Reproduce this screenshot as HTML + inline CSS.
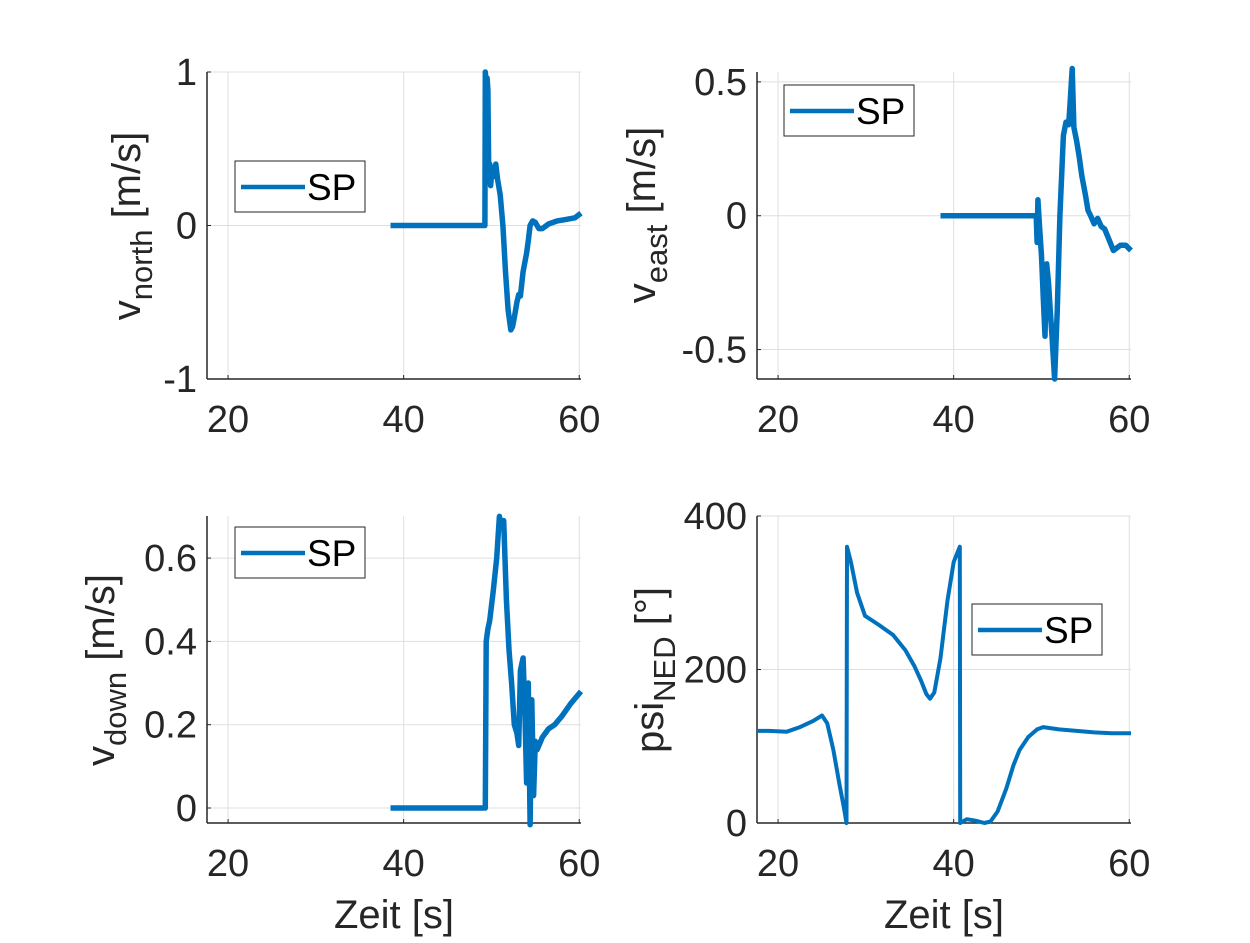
<!DOCTYPE html>
<html><head><meta charset="utf-8"><style>
body{margin:0;background:#fff;}
svg text{font-family:"Liberation Sans",Arial,sans-serif;fill:#262626;}
</style></head><body>
<svg id="fig" width="1250" height="938" xmlns="http://www.w3.org/2000/svg"></svg>
<script>
// ---- data ----
const tNorth=[38.5,49.25,49.3,49.4,49.5,49.6,49.7,49.8,49.9,50.1,50.3,50.5,50.7,51.0,51.3,51.6,51.9,52.2,52.4,52.6,52.9,53.1,53.3,53.6,54.0,54.2,54.4,54.7,55.0,55.4,55.8,56.5,57.5,58.5,59.5,60.2];
const vNorth=[0,0,1.0,0.92,0.96,0.88,0.3,0.4,0.26,0.38,0.32,0.4,0.3,0.2,0.0,-0.3,-0.55,-0.68,-0.66,-0.6,-0.5,-0.45,-0.46,-0.3,-0.18,-0.1,0.0,0.03,0.02,-0.02,-0.02,0.01,0.03,0.04,0.05,0.08];
const tEast=[38.5,49.4,49.5,49.6,49.8,50.0,50.2,50.4,50.6,50.8,51.0,51.2,51.5,51.8,52.1,52.5,52.8,53.1,53.3,53.5,53.7,54.0,54.3,54.6,55.0,55.3,55.6,56.0,56.4,56.8,57.2,57.7,58.2,59.0,59.6,60.2];
const vEast=[0,0,-0.1,0.06,-0.05,-0.15,-0.3,-0.45,-0.18,-0.25,-0.35,-0.45,-0.61,-0.35,0.0,0.3,0.35,0.34,0.44,0.55,0.33,0.28,0.22,0.15,0.08,0.02,0.0,-0.03,-0.01,-0.04,-0.05,-0.09,-0.13,-0.11,-0.11,-0.13];
const tDown=[38.5,49.3,49.4,49.6,49.8,50.2,50.6,50.9,51.1,51.4,51.7,52.0,52.3,52.6,52.9,53.1,53.3,53.6,53.8,54.0,54.2,54.4,54.6,54.8,55.0,55.2,55.4,55.8,56.5,57.2,58.0,59.0,60.2];
const vDown=[0,0,0.40,0.43,0.45,0.52,0.6,0.7,0.68,0.69,0.5,0.38,0.3,0.2,0.18,0.15,0.33,0.36,0.24,0.06,0.3,-0.04,0.26,0.03,0.16,0.14,0.15,0.17,0.19,0.2,0.22,0.25,0.28];
const tPsi=[17.6,19,21,22.5,24,25,25.6,26.3,27.0,27.5,27.8,27.85,28.3,29.0,29.9,31.5,33.1,34.5,35.5,36.3,36.9,37.3,37.8,38.5,39.3,40.0,40.7,40.75,41.5,42.5,43.5,44.2,45,46,46.8,47.5,48.5,49.5,50.2,52,54,56,58,60.2];
const vPsi=[120,120,119,125,133,140,130,95,50,20,0,360,340,300,270,258,245,225,205,185,168,162,170,215,290,340,360,0,5,3,0,2,15,45,75,95,112,122,125,122,120,118,117,117];
const xTicks=[20,40,60];
const ticksN=[-1,0,1], ticksE=[-0.5,0,0.5], ticksD=[0,0.2,0.4,0.6], ticksP=[0,200,400];
</script>
<script>
const NS="http://www.w3.org/2000/svg";
const svg=document.getElementById('fig');
function mk(tag,attrs,parent){const e=document.createElementNS(NS,tag);for(const k in attrs)e.setAttribute(k,attrs[k]);(parent||svg).appendChild(e);return e;}
function panel(o){
  const g=mk('g',{});
  
  
  const X=v=>o.x0+(v-17.6)/(60.2-17.6)*(o.x1-o.x0);
  const Y=v=>o.y1-(v-o.ymin)/(o.ymax-o.ymin)*(o.y1-o.y0);
  xTicks.forEach(t=>{mk('line',{x1:X(t),x2:X(t),y1:o.y0,y2:o.y1,stroke:'#dfdfdf','stroke-width':1},g);});
  o.yt.forEach(t=>{mk('line',{x1:o.x0,x2:o.x1,y1:Y(t),y2:Y(t),stroke:'#dfdfdf','stroke-width':1},g);});
  mk('line',{x1:o.x0,x2:o.x0,y1:o.y0,y2:o.y1,stroke:'#262626','stroke-width':1.5},g);
  mk('line',{x1:o.x0,x2:o.x1,y1:o.y1,y2:o.y1,stroke:'#262626','stroke-width':1.5},g);
  xTicks.forEach(t=>{
    mk('line',{x1:X(t),x2:X(t),y1:o.y1,y2:o.y1-4,stroke:'#262626'},g);
    const tx=mk('text',{x:X(t),y:o.y1+53,'text-anchor':'middle','font-size':38},g);tx.textContent=t;
    
    
  });
  o.yt.forEach(t=>{
    mk('line',{x1:o.x0,x2:o.x0+4,y1:Y(t),y2:Y(t),stroke:'#262626'},g);
    const tx=mk('text',{x:o.x0-10,y:Y(t)+13,'text-anchor':'end','font-size':38},g);tx.textContent=t;
    
    
  });
  const d=o.t.map((t,i)=>(i?'L':'M')+X(t).toFixed(1)+','+Y(o.v[i]).toFixed(1)).join('');
  const p=mk('path',{d:d,fill:'none',stroke:'#0072bd','stroke-width':o.lw||5.5,'stroke-linejoin':'round'},g);
  
  
  const lg=mk('g',{},g);
  
  
  mk('rect',{x:o.lx,y:o.ly,width:130,height:51,fill:'#fff',stroke:'#262626','stroke-width':1},lg);
  mk('line',{x1:o.lx+6,x2:o.lx+70,y1:o.ly+26,y2:o.ly+26,stroke:'#0072bd','stroke-width':4.5},lg);
  const lt=mk('text',{x:o.lx+72,y:o.ly+39,'font-size':37,style:'fill:#000'},lg);lt.textContent='SP';
  const yl=mk('text',{transform:`translate(${o.ylx},${o.yly}) rotate(-90)`,'text-anchor':'middle','font-size':40},g);
  yl.innerHTML=o.ylab;
  
  
  if(o.xlab){const xl=mk('text',{x:(o.x0+o.x1)/2,y:928,'text-anchor':'middle','font-size':40},g);xl.textContent='Zeit [s]';
    
    }
}
panel({name:'panel-v-north',x0:207,x1:581,y0:72,y1:379,ymin:-1,ymax:1,yt:ticksN,t:tNorth,v:vNorth,lx:235,ly:161,ylx:140,yly:226,ylab:'v<tspan dy="12" font-size="31">north</tspan><tspan dy="-12"> [m/s]</tspan>'});
panel({name:'panel-v-east',x0:757,x1:1131,y0:72,y1:379,ymin:-0.61,ymax:0.537,yt:ticksE,t:tEast,v:vEast,lx:784,ly:85,ylx:655,yly:215,ylab:'v<tspan dy="12" font-size="31">east</tspan><tspan dy="-12"> [m/s]</tspan>'});
panel({name:'panel-v-down',x0:207,x1:581,y0:516,y1:823,ymin:-0.036,ymax:0.701,yt:ticksD,t:tDown,v:vDown,lx:235,ly:527,ylx:114,yly:670,xlab:1,ylab:'v<tspan dy="12" font-size="31">down</tspan><tspan dy="-12"> [m/s]</tspan>'});
panel({name:'panel-psi-ned',x0:757,x1:1131,y0:516,y1:823,ymin:0,ymax:400,yt:ticksP,t:tPsi,v:vPsi,lx:972,ly:604,ylx:663,yly:670,xlab:1,lw:4,ylab:'psi<tspan dy="12" font-size="31">NED</tspan><tspan dy="-12"> [°]</tspan>'});
</script>
</body></html>
